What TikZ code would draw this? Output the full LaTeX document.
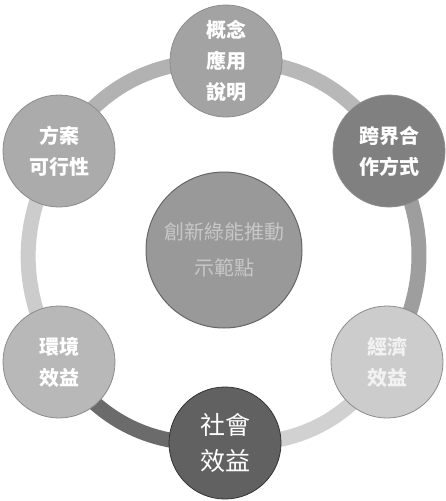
\documentclass[tikz,border=0pt]{standalone}
\usepackage{fontspec}
\newfontfamily\cjk{Noto Sans CJK TC}
\usetikzlibrary{backgrounds}

\begin{document}
\begin{tikzpicture}
    [
        x=1pt, y=-1pt,
        ball/.style={circle, draw=black!45, line width=0.8pt, minimum size=112pt,
            inner sep=0pt, align=center, text=white, font=\cjk\bfseries\fontsize{20}{31}\selectfont},
        hub/.style={circle, draw=black!60, line width=1pt, fill=black!40, minimum size=156pt,
            inner sep=0pt, align=center, text=black!22, font=\cjk\fontsize{20}{36}\selectfont},
        ring/.style={line width=15pt},
    ]
    \useasboundingbox (0,0) rectangle (445,501);
    \node[hub] (hub) at (224,250) {創新綠能推動\\示範點};
    \node[ball, fill=black!36] (gainian) at (226,61) {概念\\應用\\說明};
    \node[ball, fill=black!50] (kuajie) at (389,151) {跨界合\\作方式};
    \node[ball, fill=black!20, text=black!5] (jingji) at (387,362) {經濟\\效益};
    \node[ball, fill=black!62, draw=black!80, font=\cjk\fontsize{25}{36}\selectfont] (shehui) at (225,443) {社會\\效益};
    \node[ball, fill=black!28] (huanjing) at (59,362) {環境\\效益};
    \node[ball, fill=black!33] (fangan) at (59,151) {方案\\可行性};
    % ring between the outer nodes
    \begin{scope}[on background layer]
        \draw[ring, black!28] (gainian.center) to[bend left=30] (kuajie.center);
        \draw[ring, black!38] (kuajie.center) to[bend left=30] (jingji.center);
        \draw[ring, black!18] (jingji.center) to[bend left=30] (shehui.center);
        \draw[ring, black!58] (shehui.center) to[bend left=30] (huanjing.center);
        \draw[ring, black!20] (huanjing.center) to[bend left=30] (fangan.center);
        \draw[ring, black!30] (fangan.center) to[bend left=30] (gainian.center);
    \end{scope}
\end{tikzpicture}
\end{document}
